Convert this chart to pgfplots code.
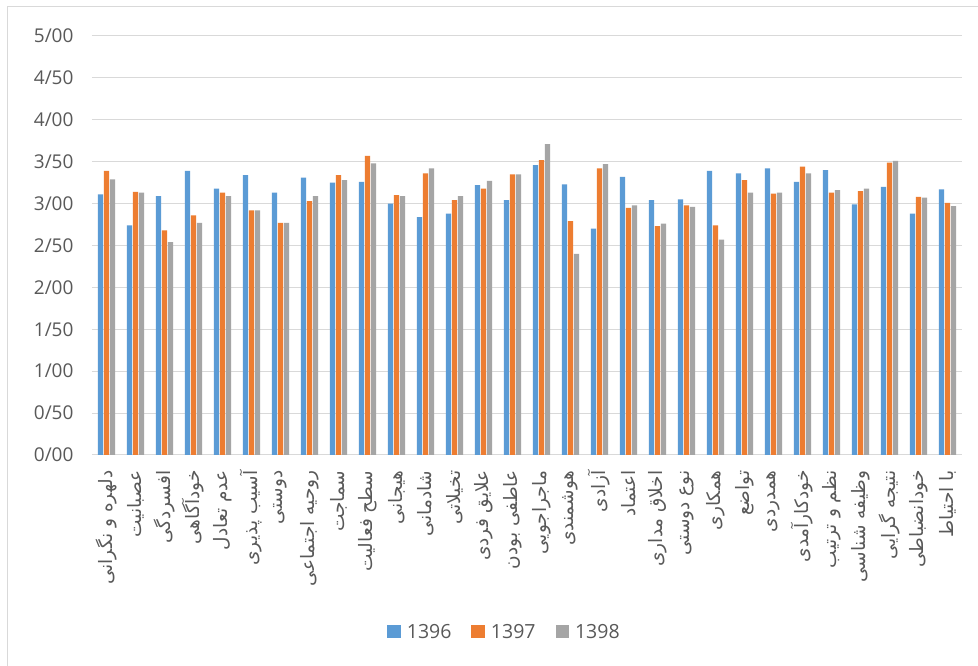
\documentclass[border=0pt]{standalone}
\usepackage{fontspec}
\setmainfont{Open Sans}
\newfontfamily\arabicfont[Script=Arabic]{DejaVu Sans}
\TeXXeTstate=1
\usepackage{pgfplots}
\usepackage{pgfplotstable}
\pgfplotsset{compat=1.18}
\definecolor{cblue}{HTML}{5B9BD5}
\definecolor{corange}{HTML}{ED7D31}
\definecolor{cgray}{HTML}{A5A5A5}
\definecolor{gridgray}{HTML}{D9D9D9}
\definecolor{textgray}{HTML}{595959}

\pgfplotstableread{
x a b c
1 3.11 3.39 3.29
2 2.74 3.14 3.13
3 3.09 2.68 2.54
4 3.39 2.86 2.77
5 3.18 3.13 3.09
6 3.34 2.92 2.92
7 3.13 2.77 2.77
8 3.31 3.03 3.09
9 3.25 3.34 3.28
10 3.26 3.57 3.48
11 3.00 3.10 3.09
12 2.84 3.36 3.42
13 2.88 3.04 3.09
14 3.22 3.18 3.27
15 3.04 3.35 3.35
16 3.46 3.52 3.71
17 3.23 2.79 2.40
18 2.70 3.42 3.47
19 3.32 2.95 2.98
20 3.04 2.73 2.76
21 3.05 2.98 2.96
22 3.39 2.74 2.57
23 3.36 3.28 3.13
24 3.42 3.12 3.13
25 3.26 3.44 3.36
26 3.40 3.13 3.16
27 2.99 3.15 3.18
28 3.20 3.49 3.51
29 2.88 3.08 3.07
30 3.17 3.01 2.97
}\datatable

\pgfplotsset{sqlegend/.style={legend image code/.code={\fill[##1] (0pt,-6.5pt) rectangle (13.5pt,6.5pt);}}}

\begin{document}
\begin{tikzpicture}[x=1pt,y=1pt]
\useasboundingbox (0,0) rectangle (978,666);
\fill[white] (0,0) rectangle (978,666);
\draw[color=gridgray, line width=1pt] (7,-20) rectangle (1000,659);
\begin{axis}[
  at={(92pt,211pt)}, anchor=south west,
  width=870pt, height=419pt, scale only axis,
  ybar=0.6pt, bar width=5.4pt,
  xmin=0.5, xmax=30.5, ymin=0, ymax=5,
  xtick={1,...,30},
  xticklabels={{\beginR دلهره و نگرانی\endR},{\beginR عصبانیت\endR},{\beginR افسردگی\endR},{\beginR خودآگاهی\endR},{\beginR عدم تعادل\endR},{\beginR آسیب پذیری\endR},{\beginR دوستی\endR},{\beginR روحیه اجتماعی\endR},{\beginR سماجت\endR},{\beginR سطح فعالیت\endR},{\beginR هیجانی\endR},{\beginR شادمانی\endR},{\beginR تخیلاتی\endR},{\beginR علایق فردی\endR},{\beginR عاطفی بودن\endR},{\beginR ماجراجویی\endR},{\beginR هوشمندی\endR},{\beginR آزادی\endR},{\beginR اعتماد\endR},{\beginR اخلاق مداری\endR},{\beginR نوع دوستی\endR},{\beginR همکاری\endR},{\beginR تواضع\endR},{\beginR همدردی\endR},{\beginR خودکارآمدی\endR},{\beginR نظم و ترتیب\endR},{\beginR وظیفه شناسی\endR},{\beginR نتیجه گرایی\endR},{\beginR خودانضباطی\endR},{\beginR با احتیاط\endR}},
  ytick={0,0.5,1,1.5,2,2.5,3,3.5,4,4.5,5},
  yticklabels={0/00,0/50,1/00,1/50,2/00,2/50,3/00,3/50,4/00,4/50,5/00},
  ymajorgrids, major grid style={gridgray, line width=1pt},
  axis line style={draw=none}, major tick length=0pt,
  tick label style={text=textgray},
  yticklabel style={font=\fontsize{19}{19}\selectfont},
  yticklabel shift=15pt,
  xticklabel style={rotate=90, anchor=east, font=\fontsize{18.5}{18.5}\selectfont\arabicfont},
  xticklabel shift=12pt,
  legend columns=3,
  legend style={draw=none, fill=none, at={(axis description cs:0.473,-0.4217)}, anchor=center,
    font=\fontsize{19.5}{19.5}\selectfont, text=textgray,
    nodes={inner xsep=0pt},
    /tikz/every odd column/.append style={column sep=6pt},
    /tikz/every even column/.append style={column sep=20pt}},
]
\addplot[fill=cblue, draw=none, sqlegend] table[x=x, y=a] {\datatable};
\addplot[fill=corange, draw=none, sqlegend] table[x=x, y=b] {\datatable};
\addplot[fill=cgray, draw=none, sqlegend] table[x=x, y=c] {\datatable};
\legend{1396,1397,1398}
\end{axis}
\end{tikzpicture}
\end{document}
